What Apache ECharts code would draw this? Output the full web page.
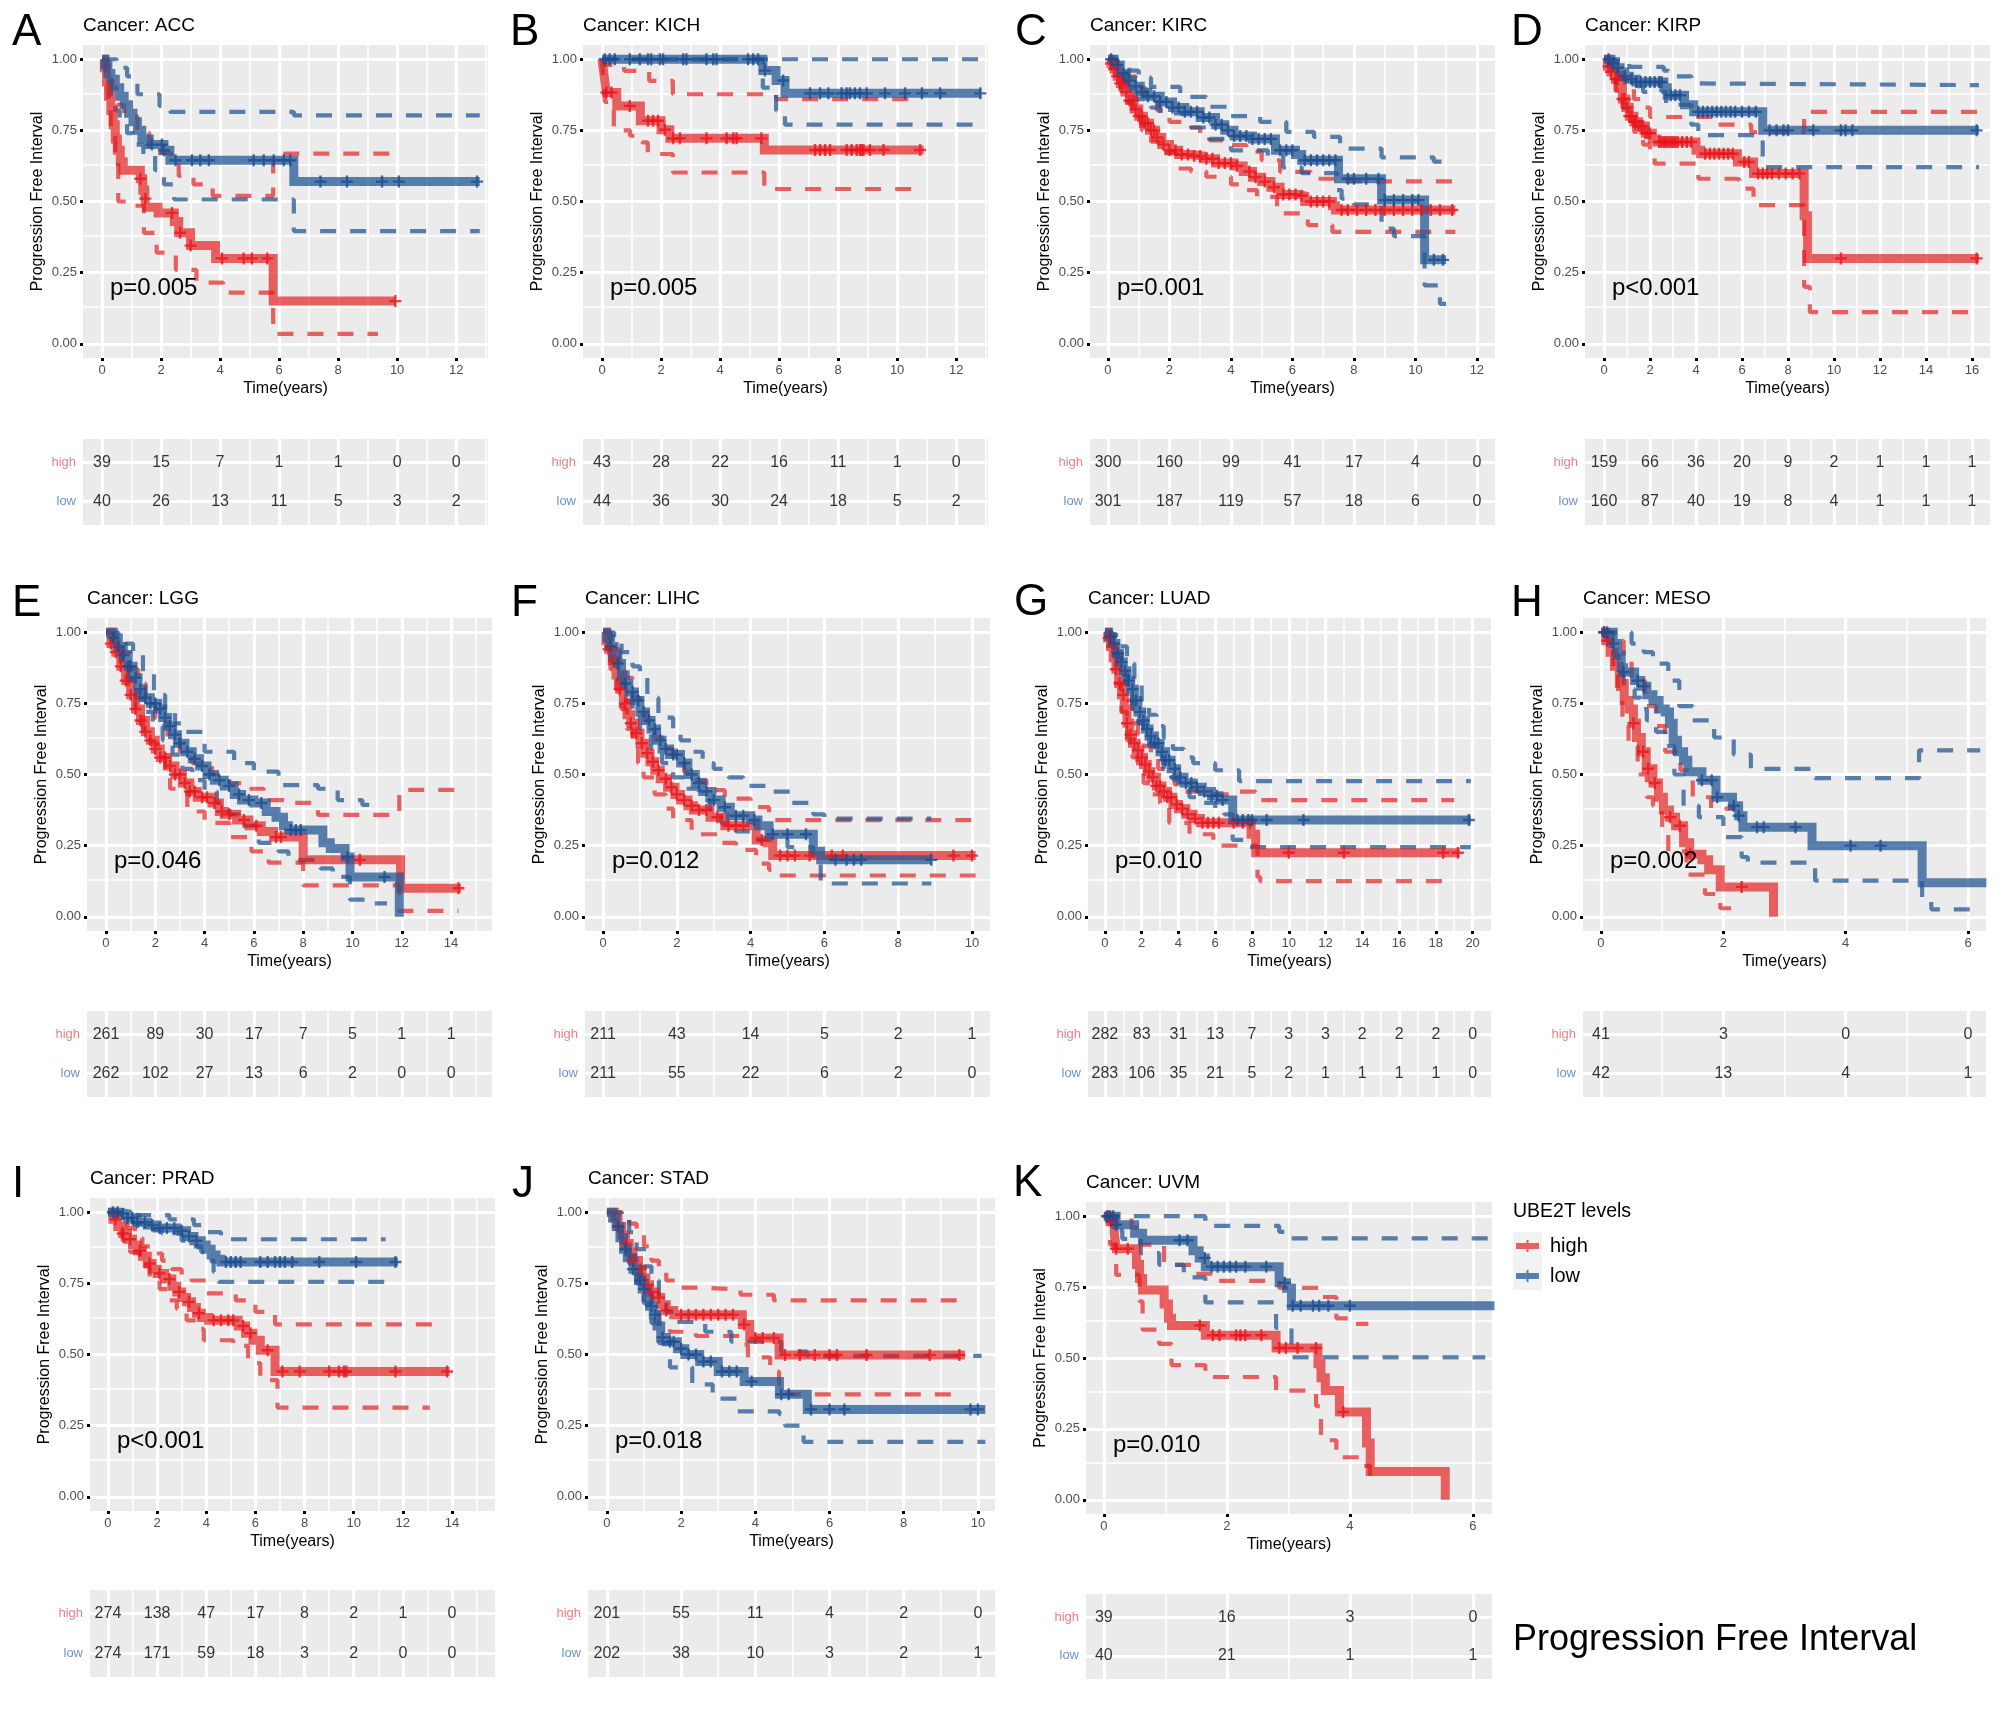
<!DOCTYPE html>
<html><head><meta charset="utf-8">
<script src="https://cdn.jsdelivr.net/npm/echarts@6/dist/echarts.min.js"></script>
<style>html,body{margin:0;padding:0;background:#fff}#c{width:2008px;height:1714px}</style>
</head><body><div id="c"></div><script>
// ---------------- DATA ----------------
// Each curve: [time(years), survival] step points; censor arrays: times of '+' marks; risk: numbers at risk at ticks.
const ACC_high_est=[[0,1],[0.08,0.97],[0.15,0.92],[0.22,0.87],[0.3,0.82],[0.38,0.77],[0.45,0.72],[0.52,0.68],[0.62,0.64],[0.72,0.61],[1.3,0.58],[1.38,0.54],[1.45,0.51],[1.5,0.48],[1.9,0.46],[2.45,0.43],[2.6,0.39],[3.0,0.345],[3.85,0.30],[5.8,0.15],[9.95,0.15]];
const ACC_high_up=[[0,1],[0.2,0.97],[0.35,0.9],[0.5,0.84],[0.75,0.8],[1.2,0.742],[1.6,0.67],[2.35,0.63],[2.6,0.59],[3.1,0.56],[3.75,0.52],[5.8,0.668],[9.9,0.668]];
const ACC_high_lo=[[0,1],[0.1,0.93],[0.2,0.85],[0.3,0.75],[0.45,0.66],[0.55,0.5],[1.05,0.485],[1.42,0.39],[1.85,0.32],[2.5,0.26],[3.2,0.215],[4.1,0.18],[5.8,0.035],[9.35,0.035]];
const ACC_high_cens=[1.3,1.47,2.37,2.65,3.0,4.07,4.8,5.08,5.6,9.94];
const ACC_low_est=[[0,1],[0.1,0.98],[0.2,0.95],[0.3,0.93],[0.45,0.9],[0.6,0.87],[0.75,0.84],[0.9,0.81],[1.05,0.78],[1.2,0.75],[1.35,0.72],[1.6,0.7],[2.1,0.68],[2.3,0.645],[6.5,0.57],[12.8,0.57]];
const ACC_low_up=[[0,1],[0.5,0.97],[0.85,0.94],[1.2,0.877],[1.95,0.836],[2.3,0.815],[6.5,0.803],[12.8,0.803]];
const ACC_low_lo=[[0,1],[0.15,0.93],[0.3,0.87],[0.45,0.82],[0.6,0.78],[0.85,0.74],[1.05,0.7],[1.4,0.66],[1.8,0.61],[2.1,0.56],[2.45,0.507],[6.5,0.396],[12.8,0.396]];
const ACC_low_cens=[1.69,2.03,2.1,2.49,3.05,3.33,3.62,5.14,5.48,5.82,6.16,6.38,7.4,8.3,9.49,10.06,12.71];
const ACC_risk_high=[39,15,7,1,1,0,0];
const ACC_risk_low=[40,26,13,11,5,3,2];

const KICH_high_est=[[0,1],[0.05,0.96],[0.1,0.92],[0.15,0.883],[0.5,0.836],[1.3,0.784],[2.0,0.752],[2.3,0.722],[5.5,0.681],[10.9,0.681]];
const KICH_high_up=[[0,1],[0.1,0.98],[0.75,0.959],[1.6,0.924],[2.4,0.877],[5.9,0.86],[10.7,0.86]];
const KICH_high_lo=[[0,1],[0.05,0.92],[0.1,0.85],[0.4,0.75],[0.95,0.731],[1.35,0.708],[1.55,0.667],[2.4,0.602],[5.5,0.544],[10.7,0.544]];
const KICH_high_cens=[0.15,0.32,0.94,1.56,1.73,1.9,2.13,2.41,2.64,3.54,4.22,4.45,4.56,5.4,7.22,7.39,7.56,7.73,8.29,8.46,8.63,8.74,8.8,8.86,9.08,9.54,10.78];
const KICH_low_est=[[0,1],[5.45,0.96],[5.9,0.925],[6.2,0.88],[12.85,0.88]];
const KICH_low_up=[[0,1],[12.85,1]];
const KICH_low_lo=[[0,1],[5.45,0.9],[5.9,0.82],[6.2,0.77],[12.85,0.77]];
const KICH_low_cens=[0.09,0.26,0.43,0.94,1.28,1.56,1.67,1.96,2.07,2.75,2.86,3.54,3.77,3.88,4.95,5.12,5.29,5.52,6.14,7.05,7.39,7.67,8.12,8.29,8.4,8.57,8.74,8.97,9.59,10.27,10.84,11.46,12.82];
const KICH_risk_high=[43,28,22,16,11,1,0];
const KICH_risk_low=[44,36,30,24,18,5,2];

const KIRC_high_est=[[0,1],[0.1,0.985],[0.2,0.965],[0.3,0.94],[0.4,0.915],[0.55,0.885],[0.7,0.855],[0.85,0.825],[1.0,0.8],[1.15,0.775],[1.35,0.75],[1.55,0.725],[1.75,0.7],[2.0,0.68],[2.3,0.665],[2.7,0.66],[3.1,0.65],[3.5,0.635],[4.1,0.625],[4.4,0.605],[4.7,0.585],[5.0,0.57],[5.3,0.55],[5.6,0.525],[6.2,0.52],[6.4,0.5],[7.3,0.485],[7.4,0.47],[11.3,0.47]];
const KIRC_high_up=[[0,1],[0.3,0.98],[0.6,0.94],[0.9,0.9],[1.2,0.86],[1.6,0.82],[2.0,0.78],[2.4,0.76],[3.0,0.735],[3.3,0.715],[4.0,0.698],[4.5,0.675],[5.0,0.645],[5.6,0.604],[6.6,0.58],[7.4,0.571],[11.3,0.571]];
const KIRC_high_lo=[[0,1],[0.2,0.95],[0.4,0.89],[0.6,0.85],[0.8,0.8],[1.1,0.75],[1.4,0.71],[1.7,0.67],[2.25,0.616],[2.7,0.605],[3.2,0.587],[4.0,0.56],[4.5,0.54],[4.85,0.516],[5.5,0.458],[6.5,0.417],[7.3,0.393],[11.3,0.393]];
const KIRC_high_cens=[0.1,0.2,0.3,0.4,0.5,0.6,0.7,0.8,0.9,1.0,1.1,1.2,1.3,1.4,1.5,1.6,1.8,2.0,2.2,2.4,2.6,2.8,3.0,3.2,3.4,3.6,3.8,4.0,4.2,4.6,4.8,5.1,5.4,5.7,5.9,6.1,6.3,6.6,6.8,7.0,7.2,7.6,7.8,8.1,8.4,8.7,9.0,9.3,9.6,9.9,10.2,10.5,10.8,11.2];
const KIRC_low_est=[[0,1],[0.2,0.98],[0.4,0.95],[0.6,0.925],[0.8,0.905],[1.05,0.885],[1.3,0.87],[1.7,0.85],[2.1,0.83],[2.5,0.815],[3.0,0.795],[3.5,0.77],[3.8,0.75],[4.1,0.73],[4.7,0.72],[5.45,0.68],[6.1,0.665],[6.3,0.645],[7.5,0.58],[8.9,0.505],[10.3,0.295],[11.0,0.295]];
const KIRC_low_up=[[0,1],[0.3,0.985],[0.7,0.96],[1.0,0.935],[1.4,0.903],[2.35,0.868],[3.2,0.833],[4.0,0.8],[4.95,0.78],[5.8,0.745],[6.7,0.727],[7.55,0.686],[8.9,0.655],[10.6,0.64],[11.0,0.64]];
const KIRC_low_lo=[[0,1],[0.3,0.95],[0.6,0.9],[0.9,0.86],[1.4,0.83],[1.7,0.81],[2.7,0.76],[3.3,0.72],[4.0,0.68],[5.2,0.66],[5.7,0.62],[6.3,0.6],[7.45,0.54],[7.6,0.51],[8.0,0.49],[8.9,0.405],[9.3,0.378],[10.3,0.205],[10.8,0.14],[11.0,0.14]];
const KIRC_low_cens=[0.1,0.3,0.5,0.7,0.9,1.1,1.3,1.5,1.7,1.9,2.1,2.3,2.5,2.7,2.9,3.1,3.3,3.5,3.7,3.9,4.1,4.3,4.5,4.7,4.9,5.1,5.3,5.6,5.8,6.0,6.4,6.6,6.8,7.0,7.2,7.4,7.8,8.0,8.4,8.8,9.0,9.3,9.6,9.9,10.1,10.6,10.9];
const KIRC_risk_high=[300,160,99,41,17,4,0];
const KIRC_risk_low=[301,187,119,57,18,6,0];

const KIRP_high_est=[[0,1],[0.15,0.975],[0.3,0.955],[0.5,0.93],[0.65,0.9],[0.8,0.86],[0.95,0.83],[1.1,0.8],[1.3,0.78],[1.5,0.765],[1.8,0.74],[2.1,0.72],[2.3,0.709],[4.0,0.68],[4.2,0.668],[5.8,0.639],[6.5,0.598],[8.7,0.45],[8.85,0.30],[16.3,0.30]];
const KIRP_high_up=[[0,1],[0.3,0.98],[0.6,0.95],[0.9,0.91],[1.3,0.86],[1.7,0.83],[2.0,0.797],[4.8,0.77],[6.4,0.744],[8.7,0.815],[16.3,0.815]];
const KIRP_high_lo=[[0,1],[0.3,0.93],[0.5,0.89],[0.8,0.83],[1.1,0.78],[1.3,0.745],[1.7,0.7],[2.0,0.675],[2.2,0.633],[4.1,0.58],[5.8,0.575],[5.9,0.545],[6.5,0.487],[8.7,0.2],[8.95,0.111],[16.3,0.111]];
const KIRP_high_cens=[0.2,0.3,0.5,0.6,0.8,0.9,1.0,1.1,1.2,1.3,1.4,1.5,1.6,1.7,1.8,1.9,2.0,2.4,2.5,2.6,2.7,2.8,2.9,3.0,3.1,3.2,3.4,3.6,3.8,4.4,4.6,4.8,5.0,5.2,5.4,5.6,6.1,6.3,6.7,6.9,7.1,7.3,7.6,7.9,8.2,8.5,10.3,16.2];
const KIRP_low_est=[[0,1],[0.3,0.985],[0.5,0.97],[0.7,0.955],[0.9,0.94],[1.1,0.93],[1.4,0.92],[2.6,0.9],[2.75,0.873],[3.5,0.84],[3.9,0.815],[6.9,0.75],[16.3,0.75]];
const KIRP_low_up=[[0,1],[1.1,0.973],[2.6,0.96],[2.8,0.94],[3.8,0.915],[4.0,0.909],[16.3,0.909]];
const KIRP_low_lo=[[0,1],[0.5,0.93],[1.0,0.905],[1.7,0.885],[2.7,0.84],[3.8,0.77],[4.1,0.733],[6.9,0.621],[16.3,0.621]];
const KIRP_low_cens=[0.2,0.4,0.6,0.9,1.2,1.4,1.6,1.8,2.0,2.2,2.4,2.5,2.9,3.1,3.3,4.1,4.3,4.5,4.7,4.9,5.1,5.3,5.5,5.7,6.0,6.3,6.6,7.2,7.5,7.8,8.0,9.1,10.3,10.5,10.8,16.2];
const KIRP_risk_high=[159,66,36,20,9,2,1,1,1];
const KIRP_risk_low=[160,87,40,19,8,4,1,1,1];

const LGG_high_est=[[0,1],[0.2,0.96],[0.4,0.93],[0.6,0.88],[0.8,0.83],[1.0,0.78],[1.2,0.73],[1.4,0.69],[1.6,0.65],[1.8,0.62],[2.0,0.59],[2.2,0.56],[2.5,0.53],[2.8,0.5],[3.1,0.47],[3.4,0.44],[3.7,0.42],[4.3,0.4],[4.6,0.37],[4.8,0.36],[5.3,0.34],[5.8,0.32],[6.3,0.3],[6.8,0.28],[8.0,0.2],[11.95,0.1],[14.4,0.1]];
const LGG_high_up=[[0,1],[0.4,0.97],[0.7,0.93],[1.0,0.87],[1.3,0.82],[1.6,0.76],[2.0,0.7],[2.5,0.63],[3.0,0.58],[3.5,0.54],[4.3,0.5],[5.0,0.47],[5.5,0.45],[6.4,0.41],[7.5,0.4],[8.6,0.358],[11.9,0.446],[14.3,0.446]];
const LGG_high_lo=[[0,1],[0.3,0.94],[0.6,0.87],[0.9,0.79],[1.2,0.72],[1.5,0.66],[1.8,0.61],[2.1,0.56],[2.4,0.51],[2.6,0.45],[3.3,0.37],[4.0,0.33],[5.0,0.28],[5.9,0.23],[6.6,0.19],[8.0,0.11],[11.9,0.021],[14.3,0.021]];
const LGG_high_cens=[0.2,0.4,0.6,0.8,1.0,1.2,1.4,1.6,1.8,2.0,2.2,2.4,2.6,2.8,3.0,3.2,3.4,3.6,3.9,4.1,4.4,4.7,5.0,5.6,6.1,6.9,7.1,10.3,14.3];
const LGG_low_est=[[0,1],[0.3,0.98],[0.5,0.95],[0.7,0.92],[0.9,0.88],[1.1,0.84],[1.3,0.8],[1.5,0.77],[1.8,0.75],[2.1,0.73],[2.3,0.7],[2.5,0.67],[2.7,0.64],[2.9,0.61],[3.2,0.58],[3.5,0.555],[3.8,0.53],[4.1,0.5],[4.4,0.48],[4.8,0.46],[5.2,0.43],[5.5,0.41],[6.0,0.4],[6.5,0.37],[6.9,0.35],[7.2,0.32],[7.4,0.305],[8.8,0.26],[9.1,0.24],[9.7,0.21],[9.9,0.14],[11.9,0.0]];
const LGG_low_up=[[0,1],[0.5,0.99],[0.8,0.96],[1.1,0.92],[1.5,0.86],[1.95,0.78],[2.4,0.72],[2.8,0.68],[3.25,0.65],[4.0,0.58],[5.2,0.54],[6.0,0.51],[7.0,0.463],[8.6,0.45],[9.4,0.41],[10.4,0.393],[11.0,0.393]];
const LGG_low_lo=[[0,1],[0.3,0.96],[0.6,0.9],[0.9,0.83],[1.2,0.77],[1.5,0.72],[1.9,0.67],[2.3,0.62],[2.7,0.57],[3.1,0.52],[3.5,0.48],[4.0,0.44],[4.5,0.4],[5.0,0.36],[5.4,0.32],[6.2,0.26],[7.0,0.23],[7.4,0.2],[8.7,0.17],[9.2,0.14],[9.9,0.06],[10.8,0.047],[11.4,0.047]];
const LGG_low_cens=[0.3,0.5,0.7,0.9,1.0,1.2,1.4,1.6,1.8,2.0,2.2,2.4,2.6,2.8,3.0,3.3,3.6,3.9,4.2,4.6,5.0,5.4,5.8,6.3,7.5,7.7,7.9,9.8,11.3];
const LGG_risk_high=[261,89,30,17,7,5,1,1];
const LGG_risk_low=[262,102,27,13,6,2,0,0];

const LIHC_high_est=[[0,1],[0.08,0.97],[0.15,0.94],[0.25,0.9],[0.35,0.85],[0.45,0.8],[0.55,0.75],[0.65,0.71],[0.75,0.68],[0.87,0.645],[1.0,0.61],[1.13,0.575],[1.27,0.545],[1.4,0.515],[1.55,0.485],[1.75,0.455],[1.95,0.43],[2.1,0.41],[2.3,0.39],[2.45,0.375],[2.9,0.35],[3.3,0.32],[4.15,0.27],[4.45,0.26],[4.6,0.215],[10.1,0.215]];
const LIHC_high_up=[[0,1],[0.2,0.98],[0.3,0.94],[0.45,0.89],[0.6,0.84],[0.8,0.77],[1.0,0.71],[1.2,0.67],[1.4,0.63],[1.65,0.59],[1.9,0.56],[2.2,0.51],[2.45,0.48],[2.8,0.445],[3.3,0.415],[4.0,0.385],[4.5,0.34],[10.1,0.34]];
const LIHC_high_lo=[[0,1],[0.1,0.93],[0.2,0.87],[0.35,0.8],[0.5,0.73],[0.65,0.66],[0.8,0.6],[0.95,0.54],[1.1,0.49],[1.4,0.43],[1.7,0.38],[1.9,0.34],[2.4,0.29],[3.1,0.26],[3.6,0.235],[4.15,0.187],[4.5,0.165],[4.7,0.145],[10.1,0.145]];
const LIHC_high_cens=[0.15,0.3,0.45,0.6,0.75,0.9,1.05,1.2,1.35,1.5,1.7,1.85,2.0,2.2,2.4,2.6,2.8,3.1,3.4,3.6,3.8,4.3,4.8,5.0,5.2,5.6,6.2,6.5,9.5,10.0];
const LIHC_low_est=[[0,1],[0.1,0.98],[0.2,0.95],[0.3,0.92],[0.4,0.89],[0.5,0.85],[0.6,0.82],[0.7,0.79],[0.85,0.76],[1.0,0.72],[1.15,0.69],[1.3,0.66],[1.45,0.62],[1.6,0.59],[1.8,0.57],[2.1,0.54],[2.3,0.5],[2.5,0.47],[2.7,0.44],[2.95,0.41],[3.2,0.385],[3.45,0.355],[4.0,0.34],[4.2,0.32],[4.5,0.29],[5.7,0.23],[5.9,0.2],[8.9,0.2]];
const LIHC_low_up=[[0,1],[0.3,0.97],[0.5,0.93],[0.8,0.88],[1.0,0.84],[1.2,0.77],[1.5,0.7],[1.9,0.64],[2.1,0.62],[2.4,0.58],[2.7,0.54],[3.0,0.52],[3.4,0.49],[3.8,0.46],[4.5,0.44],[5.1,0.4],[5.7,0.36],[6.0,0.345],[8.9,0.345]];
const LIHC_low_lo=[[0,1],[0.2,0.9],[0.4,0.83],[0.6,0.76],[0.8,0.7],[1.0,0.65],[1.3,0.59],[1.6,0.54],[1.9,0.49],[2.2,0.45],[2.6,0.41],[2.9,0.37],[3.2,0.33],[3.6,0.3],[4.2,0.27],[5.0,0.245],[5.7,0.19],[5.9,0.117],[8.9,0.117]];
const LIHC_low_cens=[0.2,0.4,0.6,0.8,0.95,1.1,1.25,1.4,1.55,1.7,1.9,2.0,2.2,2.4,2.6,2.8,3.0,3.3,3.6,3.8,4.1,4.6,5.0,5.5,6.3,6.6,6.8,7.0,8.9];
const LIHC_risk_high=[211,43,14,5,2,1];
const LIHC_risk_low=[211,55,22,6,2,0];

const LUAD_high_est=[[0,1],[0.15,0.98],[0.3,0.95],[0.45,0.91],[0.6,0.87],[0.75,0.82],[0.9,0.78],[1.05,0.73],[1.2,0.68],[1.35,0.64],[1.5,0.61],[1.7,0.585],[1.9,0.56],[2.1,0.535],[2.3,0.51],[2.5,0.49],[2.8,0.46],[3.1,0.44],[3.4,0.42],[3.7,0.395],[4.0,0.38],[4.4,0.36],[4.8,0.345],[5.2,0.33],[7.95,0.29],[8.2,0.225],[19.3,0.225]];
const LUAD_high_up=[[0,1],[0.3,0.98],[0.6,0.93],[0.9,0.86],[1.2,0.76],[1.5,0.68],[1.8,0.64],[2.1,0.6],[2.5,0.56],[2.9,0.52],[3.3,0.49],[3.8,0.465],[4.3,0.44],[5.2,0.43],[6.8,0.44],[8.2,0.41],[19.0,0.41]];
const LUAD_high_lo=[[0,1],[0.3,0.92],[0.6,0.82],[0.9,0.72],[1.2,0.62],[1.5,0.56],[1.8,0.52],[2.1,0.47],[2.5,0.43],[3.0,0.4],[3.5,0.33],[4.6,0.29],[5.9,0.25],[8.3,0.14],[8.45,0.125],[18.9,0.125]];
const LUAD_high_cens=[0.2,0.4,0.6,0.8,1.0,1.2,1.4,1.6,1.8,2.0,2.2,2.4,2.6,2.8,3.0,3.2,3.4,3.6,3.9,4.2,4.5,4.9,5.3,5.6,5.9,6.2,7.0,7.5,7.9,10.0,13.0,18.4,19.2];
const LUAD_low_est=[[0,1],[0.2,0.985],[0.4,0.96],[0.6,0.925],[0.8,0.895],[1.0,0.865],[1.2,0.83],[1.4,0.8],[1.6,0.76],[1.8,0.72],[2.0,0.69],[2.2,0.66],[2.4,0.635],[2.7,0.61],[3.0,0.58],[3.3,0.55],[3.6,0.52],[3.9,0.49],[4.3,0.47],[4.8,0.455],[5.3,0.44],[5.8,0.425],[6.2,0.41],[6.95,0.34],[19.9,0.34]];
const LUAD_low_up=[[0,1],[0.4,0.99],[0.8,0.95],[1.2,0.89],[1.6,0.82],[2.0,0.75],[2.4,0.71],[2.8,0.67],[3.2,0.63],[3.7,0.59],[4.3,0.56],[4.8,0.54],[6.0,0.515],[7.3,0.477],[19.9,0.477]];
const LUAD_low_lo=[[0,1],[0.3,0.96],[0.6,0.91],[0.9,0.85],[1.2,0.79],[1.5,0.73],[1.8,0.68],[2.1,0.63],[2.4,0.6],[2.8,0.56],[3.2,0.52],[3.6,0.49],[4.0,0.45],[4.6,0.42],[5.3,0.4],[6.0,0.37],[6.5,0.36],[6.95,0.27],[7.8,0.245],[19.9,0.245]];
const LUAD_low_cens=[0.3,0.5,0.7,0.9,1.1,1.3,1.5,1.7,1.9,2.1,2.3,2.5,2.7,2.9,3.1,3.3,3.5,3.8,4.1,4.4,4.7,5.0,5.4,5.8,6.1,6.4,7.2,7.5,7.8,8.0,8.8,10.8,19.8];
const LUAD_risk_high=[282,83,31,13,7,3,3,2,2,2,0];
const LUAD_risk_low=[283,106,35,21,5,2,1,1,1,1,0];

const MESO_high_est=[[0,1],[0.08,0.97],[0.15,0.93],[0.22,0.88],[0.3,0.82],[0.38,0.76],[0.46,0.73],[0.53,0.68],[0.58,0.63],[0.66,0.58],[0.74,0.52],[0.85,0.47],[0.94,0.42],[1.02,0.375],[1.12,0.35],[1.22,0.32],[1.35,0.26],[1.45,0.22],[1.65,0.2],[1.76,0.165],[1.95,0.105],[2.82,0.0]];
const MESO_high_up=[[0,1],[0.2,0.97],[0.37,0.9],[0.5,0.83],[0.72,0.74],[0.9,0.67],[1.05,0.58],[1.3,0.515],[1.5,0.42],[1.8,0.38],[2.2,0.38]];
const MESO_high_lo=[[0,1],[0.1,0.94],[0.2,0.86],[0.28,0.77],[0.35,0.68],[0.45,0.6],[0.6,0.5],[0.75,0.42],[0.85,0.39],[1.0,0.3],[1.1,0.23],[1.4,0.148],[1.7,0.08],[1.95,0.03],[2.2,0.03]];
const MESO_high_cens=[0.05,0.1,0.53,0.69,0.77,0.88,1.13,1.29,1.46,2.3];
const MESO_low_est=[[0,1],[0.2,0.96],[0.27,0.92],[0.33,0.875],[0.37,0.86],[0.55,0.83],[0.65,0.81],[0.75,0.78],[0.85,0.76],[0.95,0.73],[1.05,0.72],[1.12,0.68],[1.18,0.62],[1.25,0.58],[1.35,0.55],[1.42,0.51],[1.65,0.48],[1.88,0.42],[2.15,0.39],[2.25,0.355],[2.32,0.315],[3.45,0.25],[5.25,0.12],[6.3,0.12]];
const MESO_low_up=[[0,1],[0.5,0.96],[0.7,0.93],[0.85,0.89],[1.1,0.83],[1.28,0.74],[1.5,0.69],[1.85,0.63],[2.17,0.57],[2.45,0.52],[3.5,0.487],[5.2,0.585],[6.2,0.585]];
const MESO_low_lo=[[0,1],[0.2,0.92],[0.3,0.85],[0.37,0.8],[0.55,0.77],[0.65,0.73],[0.75,0.69],[0.9,0.65],[1.05,0.6],[1.2,0.5],[1.35,0.39],[1.6,0.35],[2.0,0.28],[2.3,0.21],[2.4,0.19],[3.5,0.127],[5.25,0.06],[5.4,0.026],[6.2,0.026]];
const MESO_low_cens=[0.05,0.1,0.2,0.37,0.6,0.7,1.65,1.81,1.9,2.17,2.25,2.55,2.66,3.18,4.08,4.57];
const MESO_risk_high=[41,3,0,0];
const MESO_risk_low=[42,13,4,1];

const PRAD_high_est=[[0,1],[0.2,0.975],[0.4,0.95],[0.6,0.925],[0.8,0.905],[1.0,0.885],[1.2,0.865],[1.4,0.845],[1.6,0.82],[1.8,0.8],[2.0,0.785],[2.3,0.765],[2.6,0.74],[2.8,0.72],[3.0,0.7],[3.2,0.685],[3.4,0.665],[3.6,0.645],[3.8,0.63],[4.1,0.62],[5.3,0.6],[5.6,0.575],[5.9,0.55],[6.2,0.515],[6.8,0.44],[13.9,0.44]];
const PRAD_high_up=[[0,1],[0.5,0.97],[0.8,0.945],[1.1,0.91],[1.4,0.88],[1.8,0.855],[2.2,0.83],[2.6,0.8],[3.0,0.78],[3.4,0.76],[4.0,0.715],[5.2,0.69],[6.0,0.65],[6.8,0.606],[13.3,0.606]];
const PRAD_high_lo=[[0,1],[0.3,0.94],[0.6,0.9],[0.9,0.86],[1.3,0.81],[1.7,0.77],[2.1,0.73],[2.5,0.69],[2.8,0.66],[3.2,0.62],[3.6,0.59],[3.9,0.55],[5.1,0.53],[5.7,0.47],[6.2,0.41],[6.9,0.313],[13.1,0.313]];
const PRAD_high_cens=[0.3,0.6,0.9,1.3,1.7,2.1,2.5,2.9,3.3,3.7,4.3,4.6,4.9,5.1,5.5,5.8,6.5,7.1,7.8,9.0,9.4,9.6,9.7,11.7,13.8];
const PRAD_low_est=[[0,1],[0.5,0.995],[0.8,0.98],[1.2,0.965],[1.6,0.955],[2.0,0.945],[2.8,0.935],[3.2,0.915],[3.5,0.9],[3.8,0.885],[4.0,0.87],[4.2,0.85],[4.4,0.835],[4.6,0.825],[11.8,0.825]];
const PRAD_low_up=[[0,1],[1.2,0.99],[2.5,0.975],[3.5,0.955],[4.0,0.93],[4.6,0.905],[11.3,0.905]];
const PRAD_low_lo=[[0,1],[0.5,0.975],[1.0,0.96],[1.6,0.94],[2.2,0.925],[3.0,0.9],[3.4,0.88],[3.8,0.86],[4.0,0.83],[4.3,0.79],[4.5,0.755],[11.8,0.755]];
const PRAD_low_cens=[0.2,0.4,0.6,0.8,1.0,1.2,1.5,1.8,2.1,2.4,2.7,3.0,3.3,3.6,4.8,5.0,5.2,5.4,6.2,6.5,6.8,7.0,7.2,7.5,8.6,10.1,11.7];
const PRAD_risk_high=[274,138,47,17,8,2,1,0];
const PRAD_risk_low=[274,171,59,18,3,2,0,0];

const STAD_high_est=[[0,1],[0.2,0.98],[0.3,0.95],[0.4,0.92],[0.5,0.89],[0.6,0.86],[0.7,0.83],[0.85,0.8],[0.95,0.77],[1.05,0.745],[1.15,0.72],[1.3,0.7],[1.45,0.675],[1.6,0.655],[1.8,0.64],[3.65,0.605],[3.85,0.558],[4.64,0.498],[9.65,0.498]];
const STAD_high_up=[[0,1],[0.4,0.99],[0.6,0.96],[0.8,0.92],[1.0,0.88],[1.2,0.83],[1.4,0.79],[1.6,0.76],[1.87,0.735],[2.6,0.728],[3.6,0.71],[4.5,0.69],[9.6,0.687]];
const STAD_high_lo=[[0,1],[0.2,0.95],[0.4,0.9],[0.6,0.84],[0.8,0.78],[1.0,0.72],[1.2,0.66],[1.4,0.61],[1.7,0.58],[2.4,0.565],[3.6,0.535],[3.8,0.49],[4.4,0.44],[4.64,0.395],[4.9,0.36],[9.5,0.36]];
const STAD_high_cens=[0.3,0.5,0.7,0.9,1.1,1.2,1.4,1.6,2.0,2.2,2.4,2.6,2.8,3.0,3.2,3.4,3.7,4.0,4.2,4.5,4.8,5.2,5.6,6.0,6.2,7.0,8.7,9.5];
const STAD_low_est=[[0,1],[0.15,0.98],[0.25,0.95],[0.35,0.91],[0.45,0.87],[0.55,0.84],[0.7,0.8],[0.85,0.76],[0.95,0.73],[1.05,0.7],[1.15,0.67],[1.25,0.64],[1.35,0.6],[1.45,0.56],[1.6,0.545],[1.9,0.52],[2.1,0.5],[2.5,0.475],[3.0,0.44],[3.7,0.405],[4.65,0.36],[5.4,0.307],[10.2,0.307]];
const STAD_low_up=[[0,1],[0.4,0.98],[0.6,0.93],[0.8,0.87],[1.0,0.81],[1.2,0.76],[1.4,0.7],[1.6,0.65],[1.8,0.615],[2.65,0.58],[3.35,0.545],[4.7,0.51],[5.4,0.495],[10.1,0.495]];
const STAD_low_lo=[[0,1],[0.2,0.94],[0.4,0.885],[0.6,0.82],[0.8,0.75],[1.0,0.68],[1.2,0.61],[1.4,0.54],[1.7,0.455],[2.3,0.395],[2.85,0.345],[3.5,0.3],[4.65,0.29],[4.8,0.25],[5.3,0.193],[10.2,0.193]];
const STAD_low_cens=[0.3,0.5,0.7,0.9,1.0,1.2,1.3,1.5,1.7,1.8,2.0,2.2,2.4,2.6,2.8,3.1,3.3,3.5,3.9,4.7,4.9,5.5,6.0,6.4,9.8,10.0];
const STAD_risk_high=[201,55,11,4,2,0];
const STAD_risk_low=[202,38,10,3,2,1];

const UVM_high_est=[[0,1],[0.1,0.98],[0.17,0.94],[0.2,0.885],[0.53,0.83],[0.58,0.78],[0.63,0.74],[0.98,0.69],[1.05,0.64],[1.1,0.615],[1.65,0.58],[2.8,0.535],[3.48,0.48],[3.53,0.43],[3.6,0.385],[3.83,0.31],[4.27,0.2],[4.33,0.1],[5.55,0.0]];
const UVM_high_up=[[0,1],[0.45,0.96],[0.6,0.9],[0.98,0.828],[1.42,0.797],[1.85,0.772],[2.85,0.747],[3.5,0.715],[3.78,0.64],[4.1,0.62],[4.3,0.62]];
const UVM_high_lo=[[0,1],[0.1,0.9],[0.2,0.793],[0.58,0.7],[0.63,0.6],[0.9,0.55],[1.1,0.475],[1.65,0.433],[2.8,0.385],[3.45,0.33],[3.53,0.21],[3.78,0.15],[4.2,0.12],[4.33,0.04],[4.35,0.04]];
const UVM_high_cens=[0.08,0.12,0.2,0.39,1.56,1.77,1.88,2.15,2.22,2.3,2.56,2.85,2.96,3.15,3.45,3.89];
const UVM_low_est=[[0,1],[0.2,0.97],[0.5,0.94],[0.63,0.915],[1.45,0.878],[1.55,0.853],[1.65,0.822],[2.85,0.765],[2.97,0.746],[3.05,0.684],[6.35,0.684]];
const UVM_low_up=[[0,1],[1.65,0.966],[2.85,0.945],[2.97,0.922],[6.35,0.922]];
const UVM_low_lo=[[0,1],[0.2,0.95],[0.3,0.92],[0.6,0.87],[0.9,0.828],[1.3,0.784],[1.65,0.696],[2.8,0.606],[3.05,0.502],[6.2,0.502]];
const UVM_low_cens=[0.05,0.1,0.15,0.2,1.23,1.36,1.64,1.75,1.85,1.95,2.05,2.15,2.3,2.64,2.94,3.07,3.2,3.4,3.5,3.65,4.0];
const UVM_risk_high=[39,16,3,0];
const UVM_risk_low=[40,21,1,1];

const Y_TICKS=[0,0.25,0.5,0.75,1];

// ---------------- LAYOUT ----------------
const LAYOUT=[
 {k:'ACC', L:'A',lp:[12,33],  p:'p=0.005',g:[83,45,405,313],  r:[83,439,405,86],  x:[-0.644,13.08],tm:12},
 {k:'KICH',L:'B',lp:[510,33], p:'p=0.005',g:[583,45,405,313], r:[583,439,405,86], x:[-0.644,13.08],tm:12},
 {k:'KIRC',L:'C',lp:[1015,33],p:'p=0.001',g:[1090,45,405,313],r:[1090,439,405,86],x:[-0.585,12.59],tm:12},
 {k:'KIRP',L:'D',lp:[1511,33],p:'p<0.001',g:[1585,45,405,313],r:[1585,439,405,86],x:[-0.826,16.78],tm:16},
 {k:'LGG', L:'E',lp:[12,604], p:'p=0.046',g:[87,618,405,313],  r:[87,1011,405,86], x:[-0.77,15.66],tm:14},
 {k:'LIHC',L:'F',lp:[511,604],p:'p=0.012',g:[585,618,405,313], r:[585,1011,405,86],x:[-0.49,10.49],tm:10},
 {k:'LUAD',L:'G',lp:[1014,603],p:'p=0.010',g:[1088,618,403,313],r:[1088,1011,403,86],x:[-0.92,21.0],tm:20},
 {k:'MESO',L:'H',lp:[1511,604],p:'p=0.002',g:[1583,618,403,313],r:[1583,1011,403,86],x:[-0.294,6.294],tm:6},
 {k:'PRAD',L:'I',lp:[12,1185],p:'p<0.001',g:[90,1198,405,313],  r:[90,1590,405,87], x:[-0.73,15.75],tm:14},
 {k:'STAD',L:'J',lp:[512,1185],p:'p=0.018',g:[588,1198,407,313], r:[588,1590,407,87],x:[-0.51,10.46],tm:10},
 {k:'UVM', L:'K',lp:[1013,1184],p:'p=0.010',g:[1086,1202,406,312],r:[1086,1594,406,85],x:[-0.29,6.31],tm:6}
];
const DATA={};
const SRC={ACC:[ACC_high_est,ACC_high_up,ACC_high_lo,ACC_high_cens,ACC_risk_high,ACC_low_est,ACC_low_up,ACC_low_lo,ACC_low_cens,ACC_risk_low],
 KICH:[KICH_high_est,KICH_high_up,KICH_high_lo,KICH_high_cens,KICH_risk_high,KICH_low_est,KICH_low_up,KICH_low_lo,KICH_low_cens,KICH_risk_low],
 KIRC:[KIRC_high_est,KIRC_high_up,KIRC_high_lo,KIRC_high_cens,KIRC_risk_high,KIRC_low_est,KIRC_low_up,KIRC_low_lo,KIRC_low_cens,KIRC_risk_low],
 KIRP:[KIRP_high_est,KIRP_high_up,KIRP_high_lo,KIRP_high_cens,KIRP_risk_high,KIRP_low_est,KIRP_low_up,KIRP_low_lo,KIRP_low_cens,KIRP_risk_low],
 LGG:[LGG_high_est,LGG_high_up,LGG_high_lo,LGG_high_cens,LGG_risk_high,LGG_low_est,LGG_low_up,LGG_low_lo,LGG_low_cens,LGG_risk_low],
 LIHC:[LIHC_high_est,LIHC_high_up,LIHC_high_lo,LIHC_high_cens,LIHC_risk_high,LIHC_low_est,LIHC_low_up,LIHC_low_lo,LIHC_low_cens,LIHC_risk_low],
 LUAD:[LUAD_high_est,LUAD_high_up,LUAD_high_lo,LUAD_high_cens,LUAD_risk_high,LUAD_low_est,LUAD_low_up,LUAD_low_lo,LUAD_low_cens,LUAD_risk_low],
 MESO:[MESO_high_est,MESO_high_up,MESO_high_lo,MESO_high_cens,MESO_risk_high,MESO_low_est,MESO_low_up,MESO_low_lo,MESO_low_cens,MESO_risk_low],
 PRAD:[PRAD_high_est,PRAD_high_up,PRAD_high_lo,PRAD_high_cens,PRAD_risk_high,PRAD_low_est,PRAD_low_up,PRAD_low_lo,PRAD_low_cens,PRAD_risk_low],
 STAD:[STAD_high_est,STAD_high_up,STAD_high_lo,STAD_high_cens,STAD_risk_high,STAD_low_est,STAD_low_up,STAD_low_lo,STAD_low_cens,STAD_risk_low],
 UVM:[UVM_high_est,UVM_high_up,UVM_high_lo,UVM_high_cens,UVM_risk_high,UVM_low_est,UVM_low_up,UVM_low_lo,UVM_low_cens,UVM_risk_low]};
Object.keys(SRC).forEach(k=>{const a=SRC[k];DATA[k]={high:{est:a[0],up:a[1],lo:a[2],cens:a[3],risk:a[4]},low:{est:a[5],up:a[6],lo:a[7],cens:a[8],risk:a[9]}};});

// ---------------- STYLE ----------------
const FONT='"Liberation Sans", Arial, Helvetica, sans-serif';
const COL={high:{line:'rgba(228,26,28,0.68)',mark:'#E8141B',lab:'#F07F85'},
           low:{line:'rgba(40,90,150,0.76)',mark:'#1B4C8E',lab:'#6F93C6'}};
const PLUS='path://M4,0H6V4H10V6H6V10H4V6H0V4H4Z';

function stepAt(curve,t){let s=curve[0][1];for(const p of curve){if(p[0]<=t+1e-9)s=p[1];else break;}return s;}
function mult(step,lo,hi){const r=[];const a=Math.ceil(lo/step-1e-9),b=Math.floor(hi/step+1e-9);for(let k=a;k<=b;k++){const v=+(k*step).toFixed(6);if(v>lo&&v<hi)r.push(v);}return r;}

const grids=[],xAxes=[],yAxes=[],series=[],graphics=[];
function gridLineSeries(idx,xMaj,xMin,yMaj,yMin){
  const md=[];
  xMin.forEach(v=>md.push({xAxis:v,lineStyle:{width:1.6}}));
  yMin.forEach(v=>md.push({yAxis:v,lineStyle:{width:1.6}}));
  xMaj.forEach(v=>md.push({xAxis:v,lineStyle:{width:3.2}}));
  yMaj.forEach(v=>md.push({yAxis:v,lineStyle:{width:3.2}}));
  return {type:'line',xAxisIndex:idx,yAxisIndex:idx,data:[],silent:true,z:1,
    markLine:{silent:true,z:1,symbol:['none','none'],label:{show:false},emphasis:{disabled:true},animation:false,
      lineStyle:{color:'#FFFFFF',type:'solid'},data:md}};
}

LAYOUT.forEach(P=>{
  const D=DATA[P.k];
  const ticks=[];for(let t=0;t<=P.tm+1e-9;t+=2)ticks.push(t);
  const xMaj=mult(2,P.x[0],P.x[1]);
  const xMin=mult(1,P.x[0],P.x[1]).filter(v=>Math.round(v)%2!==0);
  // ---- survival plot ----
  const gi=grids.length;
  grids.push({left:P.g[0],top:P.g[1],width:P.g[2],height:P.g[3],show:true,backgroundColor:'#EBEBEB',borderWidth:0});
  xAxes.push({type:'value',gridIndex:gi,min:P.x[0],max:P.x[1],
    axisLine:{show:false,onZero:false},
    axisTick:{show:true,customValues:ticks,length:3,lineStyle:{color:'#000',width:3}},
    axisLabel:{show:true,customValues:ticks,fontSize:13,color:'#4D4D4D',margin:6,fontFamily:FONT},
    splitLine:{show:false},
    name:'Time(years)',nameLocation:'middle',nameGap:23,nameTextStyle:{fontSize:16,color:'#000',fontFamily:FONT}});
  yAxes.push({type:'value',gridIndex:gi,min:-0.05,max:1.05,
    axisLine:{show:false,onZero:false},
    axisTick:{show:true,customValues:Y_TICKS,length:3,lineStyle:{color:'#000',width:3}},
    axisLabel:{show:true,customValues:Y_TICKS,formatter:v=>Number(v).toFixed(2),fontSize:13,color:'#4D4D4D',margin:6,fontFamily:FONT},
    splitLine:{show:false},
    name:'Progression Free Interval',nameLocation:'middle',nameGap:37,nameRotate:90,nameTextStyle:{fontSize:16,color:'#000',fontFamily:FONT}});
  series.push(gridLineSeries(gi,xMaj,xMin,Y_TICKS,[0.125,0.375,0.625,0.875]));
  ['high','low'].forEach(g=>{
    const c=COL[g];
    [D[g].up,D[g].lo].forEach(ci=>series.push({name:g+' CI',type:'line',xAxisIndex:gi,yAxisIndex:gi,data:ci,step:'end',
      symbol:'none',showSymbol:false,silent:true,z:2,color:c.line,lineStyle:{color:c.line,width:4.2,type:[16,14],cap:'butt'}}));
  });
  ['high','low'].forEach(g=>{
    const c=COL[g];
    series.push({name:g,type:'line',xAxisIndex:gi,yAxisIndex:gi,data:D[g].est,step:'end',symbol:'none',showSymbol:false,silent:true,z:3,
      color:c.line,itemStyle:{color:c.line},lineStyle:{color:c.line,width:9,cap:'butt',join:'miter'}});
  });
  ['high','low'].forEach(g=>{
    const c=COL[g];
    series.push({name:g+' censored',type:'scatter',xAxisIndex:gi,yAxisIndex:gi,silent:true,z:4,
      data:D[g].cens.map(t=>[t,stepAt(D[g].est,t)]),symbol:PLUS,symbolSize:12,itemStyle:{color:c.mark}});
  });
  // texts of the panel
  graphics.push({type:'text',x:P.lp[0],y:P.lp[1],style:{text:P.L,font:'44px '+FONT,fill:'#000',textAlign:'left',textVerticalAlign:'middle',align:'left',verticalAlign:'middle'}});
  graphics.push({type:'text',x:P.g[0],y:P.g[1]-19,style:{text:'Cancer: '+P.k,font:'19px '+FONT,fill:'#000',textAlign:'left',textVerticalAlign:'middle',align:'left',verticalAlign:'middle'}});
  graphics.push({type:'text',x:P.g[0]+27,y:P.g[1]+243,z:10,style:{text:P.p,font:'24px '+FONT,fill:'#000',textAlign:'left',textVerticalAlign:'middle',align:'left',verticalAlign:'middle'}});
  // ---- risk table ----
  const ri=grids.length;
  grids.push({left:P.r[0],top:P.r[1],width:P.r[2],height:P.r[3],show:true,backgroundColor:'#EBEBEB',borderWidth:0});
  xAxes.push({type:'value',gridIndex:ri,min:P.x[0],max:P.x[1],axisLine:{show:false,onZero:false},axisTick:{show:false},axisLabel:{show:false},splitLine:{show:false}});
  yAxes.push({type:'value',gridIndex:ri,min:-0.6,max:1.6,axisLine:{show:false,onZero:false},axisTick:{show:false},splitLine:{show:false},
    axisLabel:{show:true,customValues:[0,1],margin:7,formatter:v=>(v>0.5?'{h|high}':'{l|low}'),
      rich:{h:{color:COL.high.lab,fontSize:13,fontFamily:FONT},l:{color:COL.low.lab,fontSize:13,fontFamily:FONT}}}});
  series.push(gridLineSeries(ri,xMaj,xMin,[0,1],[]));
  ['high','low'].forEach(g=>{
    series.push({type:'scatter',xAxisIndex:ri,yAxisIndex:ri,silent:true,z:3,
      data:ticks.map((t,j)=>[t,g==='high'?1:0,D[g].risk[j]]),symbol:'circle',symbolSize:1,itemStyle:{color:'rgba(0,0,0,0)'},
      label:{show:true,position:'inside',formatter:p=>String(p.value[2]),fontSize:16,color:'#000',fontFamily:FONT}});
  });
});

// legend box + texts
graphics.push({type:'rect',shape:{x:1513,y:1232,width:29,height:58},style:{fill:'#F2F2F2'},z:0});
graphics.push({type:'text',x:1513,y:1212,style:{text:'UBE2T levels',font:'19.5px '+FONT,fill:'#000',textAlign:'left',textVerticalAlign:'middle',align:'left',verticalAlign:'middle'}});
graphics.push({type:'text',x:1513,y:1640,style:{text:'Progression Free Interval',font:'36px '+FONT,fill:'#000',textAlign:'left',textVerticalAlign:'middle',align:'left',verticalAlign:'middle'}});

const chart=echarts.init(document.getElementById('c'),null,{renderer:'canvas'});
chart.setOption({
  animation:false,
  backgroundColor:'#FFFFFF',
  textStyle:{fontFamily:FONT},
  grid:grids,xAxis:xAxes,yAxis:yAxes,series:series,
  legend:{data:['high','low'],orient:'vertical',left:1516,top:1236,padding:0,itemWidth:23,itemHeight:12,itemGap:10,
    icon:'path://M0,3H23V9H0Z M10.5,0H12.5V12H10.5Z',selectedMode:false,
    textStyle:{fontSize:20,color:'#000',fontFamily:FONT,padding:[0,0,0,6]}},
  graphic:{elements:graphics}
});
</script></body></html>
